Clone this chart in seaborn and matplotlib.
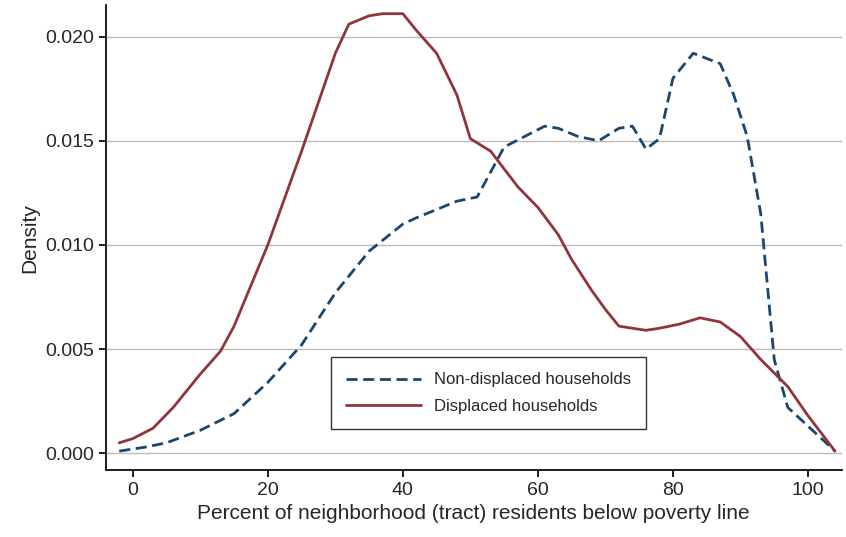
import pandas as pd
import seaborn as sns
import matplotlib.pyplot as plt

sns.set_theme(style="white")
plt.rcParams['font.family'] = ['Liberation Sans', 'DejaVu Sans']

nd_x = [-2, 2, 5, 10, 15, 20, 25, 30, 35, 40, 42, 45, 48, 51, 53, 55, 58, 61, 63, 66, 69, 72, 74,
        76, 78, 80, 83, 87, 89, 91, 93, 95, 97, 100, 104]
nd_y = [0.0001, 0.0003, 0.0005, 0.0011, 0.0019, 0.0034, 0.0052, 0.0077, 0.0097, 0.0110, 0.0113,
        0.0117, 0.0121, 0.0123, 0.0135, 0.0147, 0.0152, 0.0157, 0.0156, 0.0152, 0.0150, 0.0156,
        0.0157, 0.0146, 0.0151, 0.0180, 0.0192, 0.0187, 0.0172, 0.0152, 0.0115, 0.0045, 0.0022,
        0.0013, 0.0001]
d_x = [-2, 0, 3, 6, 10, 13, 15, 20, 25, 30, 32, 35, 37, 40, 42, 45, 48, 50, 53, 57, 60, 63, 65,
       68, 70, 72, 76, 78, 81, 84, 87, 90, 93, 97, 100, 104]
d_y = [0.0005, 0.0007, 0.0012, 0.0022, 0.0038, 0.0049, 0.0061, 0.0100, 0.0145, 0.0192, 0.0206,
       0.0210, 0.0211, 0.0211, 0.0203, 0.0192, 0.0172, 0.0151, 0.0145, 0.0128, 0.0118, 0.0105,
       0.0093, 0.0078, 0.0069, 0.0061, 0.0059, 0.0060, 0.0062, 0.0065, 0.0063, 0.0056, 0.0045,
       0.0032, 0.0018, 0.0001]

df = pd.concat([
    pd.DataFrame({'x': nd_x, 'y': nd_y, 'group': 'Non-displaced households'}),
    pd.DataFrame({'x': d_x, 'y': d_y, 'group': 'Displaced households'}),
])

fig, ax = plt.subplots(figsize=(8.46, 5.37), dpi=100)
sns.lineplot(data=df, x='x', y='y', hue='group', style='group',
             palette={'Non-displaced households': '#1a476f', 'Displaced households': '#90353b'},
             dashes={'Non-displaced households': (4, 2), 'Displaced households': ''},
             linewidth=2, ax=ax, sort=False)

ax.set_xlim(-4, 105)
ax.set_ylim(-0.0008, 0.0215)
ax.set_xticks([0, 20, 40, 60, 80, 100])
ax.set_yticks([0, 0.005, 0.01, 0.015, 0.02])
ax.set_yticklabels(['0.000', '0.005', '0.010', '0.015', '0.020'])
ax.yaxis.grid(True, color='#bbbbbb', linewidth=1)
ax.tick_params(axis='both', labelsize=14, length=5, color='black', direction='out',
               bottom=True, left=True)
for s in ['top', 'right']:
    ax.spines[s].set_visible(False)
for s in ['left', 'bottom']:
    ax.spines[s].set_color('black')
ax.set_xlabel('Percent of neighborhood (tract) residents below poverty line', fontsize=15)
ax.set_ylabel('Density', fontsize=15)
leg = ax.legend(title=None, loc='lower center', bbox_to_anchor=(0.52, 0.07), fontsize=12,
                frameon=True, fancybox=False, edgecolor='black', handlelength=4.5,
                borderpad=0.9, labelspacing=0.7)
plt.subplots_adjust(left=0.125, right=0.995, top=0.99, bottom=0.125)
plt.savefig('out.png', dpi=100)
